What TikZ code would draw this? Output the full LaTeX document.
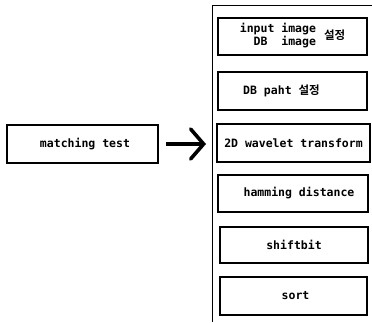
\documentclass[tikz,border=0pt]{standalone}
\usepackage{fontspec}
\newfontfamily\mono{DejaVu Sans Mono Bold}
\newfontfamily\kor{Noto Sans CJK KR Bold}
\usetikzlibrary{arrows.meta}
\tikzset{
  box/.style={draw, line width=1.1pt, minimum width=149pt, minimum height=37pt, inner sep=0pt, font=\mono\fontsize{11.5}{12}\selectfont},
  panel/.style={line width=1pt},
  bigarrow/.style={line width=3.6pt, -{Straight Barb[length=13pt,width=30pt,line cap=round]}}
}
\begin{document}
\begin{tikzpicture}[x=1pt,y=-1pt]
\useasboundingbox (0,0) rectangle (372,322);
% panel
\coordinate (pt) at (372,5);
\coordinate (pc) at (212,5);
\coordinate (pb) at (212,322);
\draw[panel] (pt) -- (pc) -- (pb);
% boxes
\node[box] (b1) at (292.5,36.5) {\begin{tabular}{@{}r@{}}input image\\DB\ \ image\end{tabular}\hspace{8pt}{\kor 설정}};
\node[box, minimum height=38pt] (b2) at (292.5,91) {\hspace{-22pt}DB paht {\kor 설정}};
\node[box, minimum width=153pt, minimum height=38pt] (b3) at (293.5,143) {2D wavelet transform};
\node[box, minimum width=150pt] (b4) at (293,193.5) {\hspace{12pt}hamming distance};
\node[box, minimum width=148pt, minimum height=36pt] (b5) at (294,245) {shiftbit};
\node[box, minimum width=147pt, minimum height=38pt] (b6) at (293.5,296) {\hspace{4pt}sort};
% left box
\node[box, minimum width=151pt, minimum height=38pt] (mt) at (82.5,144) {\hspace{5pt}matching test};
\coordinate (ar) at (206,144);
\draw[bigarrow] ([xshift=7pt]mt.east) -- (ar);
\end{tikzpicture}
\end{document}
